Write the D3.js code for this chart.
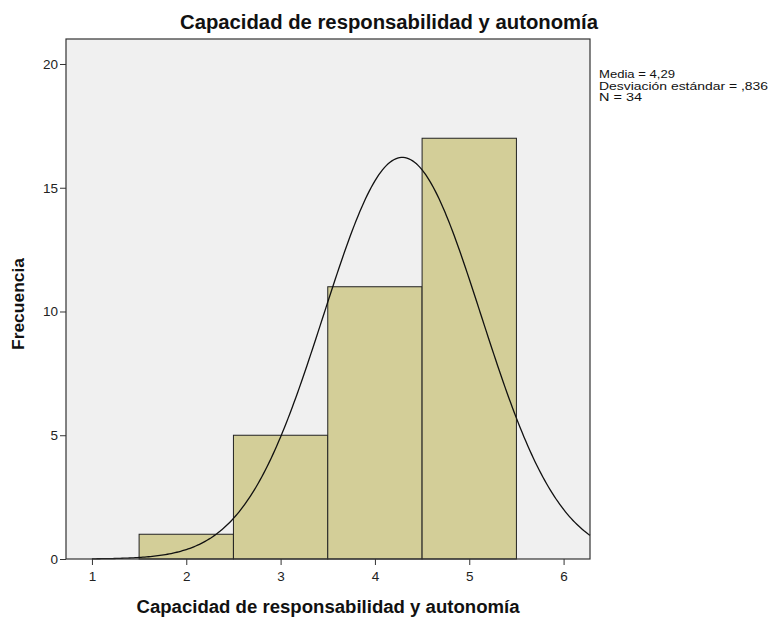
<!DOCTYPE html>
<html>
<head>
<meta charset="utf-8">
<script src="https://cdn.jsdelivr.net/npm/d3@7"></script>
<style>
  body { margin: 0; background: #fff; }
  text { font-family: Arial, "Liberation Sans", sans-serif; }
</style>
</head>
<body>
<svg width="770" height="617"></svg>
<script>
// histogram bins (class limits) and counts
const binStarts = [1.5, 2.5, 3.5, 4.5]
const binEnds = [2.5, 3.5, 4.5, 5.5]
const counts = [1, 5, 11, 17]
const xTicks = [1, 2, 3, 4, 5, 6]
const yTicks = [0, 5, 10, 15, 20]
const stats = { mean: 4.29, sd: 0.836, n: 34 }
const statLines = ['Media = 4,29', 'Desviación estándar = ,836', 'N = 34']
const statWidths = [76, 169, 43]

const svg = d3.select('svg')
const plotLeft = 66, plotRight = 590, plotTop = 39, plotBottom = 559

const x = d3.scaleLinear().domain([0.725, 6.28]).range([plotLeft, plotRight])
const y = d3.scaleLinear().domain([0, 21.01]).range([plotBottom, plotTop])

svg.append('rect')
    .attr('x', plotLeft).attr('y', plotTop)
    .attr('width', plotRight - plotLeft).attr('height', plotBottom - plotTop)
    .attr('fill', '#f0f0f0')

const bins = counts.map((c, i) => ({ x0: binStarts[i], x1: binEnds[i], c }))
svg.append('g').selectAll('rect').data(bins).enter().append('rect')
    .attr('x', d => x(d.x0))
    .attr('y', d => y(d.c))
    .attr('width', d => x(d.x1) - x(d.x0))
    .attr('height', d => y(0) - y(d.c))
    .attr('fill', '#d3ce98')
    .attr('stroke', '#222')
    .attr('stroke-width', 1)

// fitted normal curve scaled to the counts (bin width 1)
const pdf = v => stats.n / (stats.sd * Math.sqrt(2 * Math.PI)) * Math.exp(-0.5 * ((v - stats.mean) / stats.sd) ** 2)
const curveX = d3.range(1, 6.281, 0.02)
svg.append('path')
    .datum(curveX)
    .attr('fill', 'none')
    .attr('stroke', '#111')
    .attr('stroke-width', 1.3)
    .attr('d', d3.line().x(v => x(v)).y(v => y(pdf(v))))

svg.append('rect')
    .attr('x', plotLeft).attr('y', plotTop)
    .attr('width', plotRight - plotLeft).attr('height', plotBottom - plotTop)
    .attr('fill', 'none')
    .attr('stroke', '#333')
    .attr('stroke-width', 1.2)

const xAxis = svg.append('g').attr('transform', `translate(0,${plotBottom})`)
    .call(d3.axisBottom(x).tickValues(xTicks).tickFormat(d3.format('d')).tickSize(6).tickSizeOuter(0))
xAxis.select('.domain').remove()
xAxis.selectAll('line').attr('stroke', '#333')
xAxis.selectAll('text').attr('font-size', 13.5).attr('fill', '#222').attr('y', 22).attr('dy', null)

const yAxis = svg.append('g').attr('transform', `translate(${plotLeft},0)`)
    .call(d3.axisLeft(y).tickValues(yTicks).tickFormat(d3.format('d')).tickSize(6).tickSizeOuter(0))
yAxis.select('.domain').remove()
yAxis.selectAll('line').attr('stroke', '#333')
yAxis.selectAll('text').attr('font-size', 13.5).attr('fill', '#222').attr('x', -8)

svg.append('text')
    .attr('x', 389).attr('y', 29)
    .attr('text-anchor', 'middle')
    .attr('font-size', 19.5).attr('font-weight', 'bold').attr('fill', '#111')
    .attr('textLength', 418).attr('lengthAdjust', 'spacingAndGlyphs')
    .text('Capacidad de responsabilidad y autonomía')

svg.append('text')
    .attr('x', 328).attr('y', 613)
    .attr('text-anchor', 'middle')
    .attr('font-size', 18).attr('font-weight', 'bold').attr('fill', '#111')
    .attr('textLength', 383).attr('lengthAdjust', 'spacingAndGlyphs')
    .text('Capacidad de responsabilidad y autonomía')

svg.append('text')
    .attr('transform', `translate(24,${(plotTop + plotBottom) / 2 + 5}) rotate(-90)`)
    .attr('text-anchor', 'middle')
    .attr('font-size', 17).attr('font-weight', 'bold').attr('fill', '#111')
    .attr('textLength', 92).attr('lengthAdjust', 'spacingAndGlyphs')
    .text('Frecuencia')

svg.append('g').selectAll('text').data(statLines).enter().append('text')
    .attr('x', 599)
    .attr('y', (d, i) => 78 + i * 11.5)
    .attr('font-size', 11.5).attr('fill', '#111')
    .attr('textLength', (d, i) => statWidths[i]).attr('lengthAdjust', 'spacingAndGlyphs')
    .text(d => d)
</script>
</body>
</html>
